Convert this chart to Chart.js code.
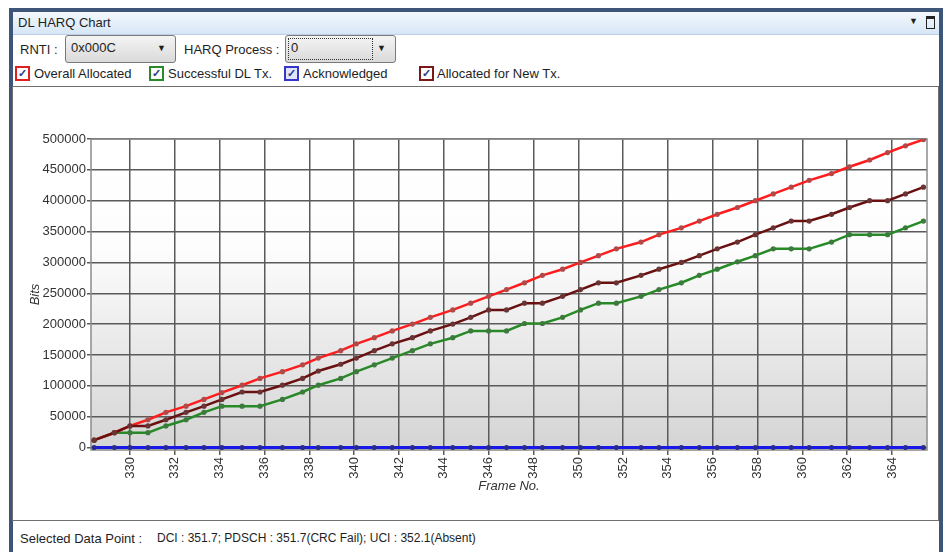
<!DOCTYPE html>
<html>
<head>
<meta charset="utf-8">
<title>DL HARQ Chart</title>
<script src="https://cdn.jsdelivr.net/npm/chart.js@4.4.0/dist/chart.umd.min.js"></script>
<style>
    body { margin: 0; background: #fff; font-family: "Liberation Sans", Arial, sans-serif; font-size: 13px; color: #1e1e1e; }
    #root { position: relative; width: 946px; height: 552px; overflow: hidden; }
    .abs { position: absolute; white-space: nowrap; }
    .frame { left: 9px; top: 8px; width: 926px; height: 560px; border: 4px solid #3d5579; border-bottom: none; }
    .titlebar { left: 13px; top: 12px; width: 926px; height: 22px; background: linear-gradient(#f4f8fd, #d6e6f6); border-bottom: 1px solid #b9cfe7; }
    .select { height: 26px; border: 1px solid #7a7a7a; border-radius: 3px; background: linear-gradient(#f4f4f4, #dadada); }
    .select .arrow { position: absolute; right: 9px; top: 7px; font-size: 9px; }
    .chk { width: 11px; height: 11px; border: 2px solid; background: #fff; font-size: 11px; line-height: 11px; text-align: center; color: #2b3a8c; font-weight: bold; }
    .panel { left: 12px; top: 86px; width: 925px; height: 433px; border: 1px solid #6f6f6f; }
</style>
</head>
<body>
<div id="root"></div>
<script>
const frames = [328.4, 329.3, 330.0, 330.8, 331.6, 332.5, 333.3, 334.1, 335.0, 335.8,
    336.8, 337.7, 338.4, 339.4, 340.1, 340.9, 341.7, 342.6, 343.4, 344.4,
    345.2, 346.0, 346.8, 347.6, 348.4, 349.3, 350.1, 350.9, 351.7, 352.8,
    353.6, 354.6, 355.4, 356.2, 357.1, 357.9, 358.7, 359.5, 360.3, 361.3,
    362.1, 363.0, 363.8, 364.6, 365.4];
const overallAllocated = [12000, 24000, 35000, 45000, 57000, 67000, 78000, 89000, 101000, 112000,
    123000, 134000, 145000, 157000, 168000, 178000, 189000, 200000, 211000, 223000,
    234000, 245000, 256000, 267000, 279000, 289000, 300000, 311000, 322000, 333000,
    345000, 356000, 367000, 378000, 389000, 400000, 411000, 422000, 433000, 444000,
    455000, 466000, 478000, 489000, 499000];
const successfulDlTx = [12000, 24000, 24000, 24000, 35000, 45000, 57000, 67000, 67000, 67000,
    78000, 90000, 101000, 112000, 123000, 134000, 145000, 157000, 168000, 178000,
    189000, 189000, 189000, 201000, 201000, 211000, 223000, 234000, 234000, 245000,
    256000, 267000, 279000, 289000, 301000, 311000, 322000, 322000, 322000, 333000,
    345000, 345000, 345000, 356000, 367000];
const acknowledged = [0, 0, 0, 0, 0, 0, 0, 0, 0, 0,
    0, 0, 0, 0, 0, 0, 0, 0, 0, 0,
    0, 0, 0, 0, 0, 0, 0, 0, 0, 0,
    0, 0, 0, 0, 0, 0, 0, 0, 0, 0,
    0, 0, 0, 0, 0];
const allocatedNewTx = [12000, 24000, 35000, 35000, 45000, 57000, 67000, 78000, 90000, 90000,
    101000, 112000, 124000, 135000, 145000, 157000, 168000, 178000, 189000, 200000,
    211000, 223000, 223000, 234000, 234000, 245000, 256000, 267000, 267000, 279000,
    289000, 300000, 311000, 322000, 333000, 345000, 356000, 367000, 367000, 378000,
    389000, 400000, 400000, 411000, 422000];
const xTicks = [330, 332, 334, 336, 338, 340, 342, 344, 346, 348, 350, 352, 354, 356, 358, 360, 362, 364];
const yTicks = [0, 50000, 100000, 150000, 200000, 250000, 300000, 350000, 400000, 450000, 500000];

class DlHarqChartController {
    divMounted = 'root'
    constructor() {
        this.harqChart = null
    }

    toPoints(values) {
        return frames.map((f, i) => ({ x: f, y: values[i] }))
    }

    setup() {
        const plotBackground = {
            id: 'plotBackground',
            beforeDraw(chart) {
                const { ctx, chartArea: a } = chart;
                const g = ctx.createLinearGradient(0, a.top, 0, a.bottom);
                g.addColorStop(0, '#ffffff');
                g.addColorStop(0.35, '#fdfdfd');
                g.addColorStop(1, '#d4d4d4');
                ctx.save();
                ctx.fillStyle = g;
                ctx.fillRect(a.left, a.top, a.right - a.left, a.bottom - a.top);
                ctx.restore();
            },
            beforeDatasetsDraw(chart) {
                const { ctx, chartArea: a } = chart;
                ctx.save();
                ctx.strokeStyle = '#8c8c8c';
                ctx.lineWidth = 1.5;
                ctx.strokeRect(a.left, a.top, a.right - a.left, a.bottom - a.top);
                ctx.restore();
            }
        };

        const line = (label, values, color, pointColor, order, width) => ({
            label: label,
            data: this.toPoints(values),
            borderColor: color,
            backgroundColor: pointColor,
            borderWidth: width,
            pointRadius: 2.6,
            pointBorderWidth: 0,
            pointBackgroundColor: pointColor,
            order: order,
        });

        const axisFont = { family: '"Liberation Sans", Arial, sans-serif', size: 13 };
        const titleFont = { family: '"Liberation Sans", Arial, sans-serif', size: 13, style: 'italic' };

        let ctx = document.getElementById('harq-chart');
        this.harqChart = new Chart(ctx, {
            type: 'line',
            plugins: [plotBackground],
            data: {
                datasets: [
                    line('Allocated for New Tx.', allocatedNewTx, '#6a1010', '#6a3434', 0, 2.5),
                    line('Overall Allocated', overallAllocated, '#ff1c1c', '#b04a4a', 1, 2.5),
                    line('Successful DL Tx.', successfulDlTx, '#278a27', '#3d7a3d', 2, 2.5),
                    line('Acknowledged', acknowledged, '#1818e8', '#2a2a8c', 3, 3),
                ]
            },
            options: {
                responsive: false,
                animation: false,
                devicePixelRatio: 1,
                layout: { padding: { left: 0, right: 10, top: 52, bottom: 21 } },
                plugins: {
                    legend: { display: false },
                    tooltip: { enabled: false },
                },
                scales: {
                    x: {
                        type: 'linear',
                        min: 328.26,
                        max: 365.56,
                        afterBuildTicks: (s) => { s.ticks = xTicks.map(v => ({ value: v })) },
                        afterFit: (s) => { s.height = 48 },
                        border: { display: false },
                        grid: { color: '#5a5a5a', lineWidth: 1.5, tickLength: 5 },
                        ticks: { minRotation: 90, maxRotation: 90, autoSkip: false, color: '#333', font: axisFont, padding: 2,
                            callback: (v) => String(v) },
                        title: { display: true, text: 'Frame No.', color: '#333', font: titleFont, padding: { top: 0, bottom: 4 } },
                    },
                    y: {
                        min: -4000,
                        max: 500000,
                        afterBuildTicks: (s) => { s.ticks = yTicks.map(v => ({ value: v })) },
                        afterFit: (s) => { s.width = 78 },
                        border: { display: false },
                        grid: { color: '#5a5a5a', lineWidth: 1.5, tickLength: 4 },
                        ticks: { color: '#333', font: axisFont, padding: 1,
                            callback: (v) => String(v) },
                        title: { display: true, text: 'Bits', color: '#333', font: titleFont, padding: { top: 15, bottom: 0 } },
                    }
                }
            }
        })
    }

    mount() {
        document.getElementById(this.divMounted).innerHTML = this.show();
        this.setup()
    }

    show() {
        return `
            <div class="abs frame"></div>
            <div class="abs titlebar"></div>
            <div class="abs" style="left:18px; top:15px;">DL HARQ Chart</div>
            <div class="abs" style="left:909px; top:16px; font-size:9px;">&#9660;</div>
            <div class="abs" style="left:926px; top:16px; width:7px; height:9px; border:1px solid #222; border-top-width:3px;"></div>

            <div class="abs" style="left:20px; top:42px;">RNTI :</div>
            <div class="abs select" style="left:65px; top:35px; width:109px;">
                <span class="abs" style="left:5px; top:4px;">0x000C</span><span class="arrow abs">&#9660;</span>
            </div>
            <div class="abs" style="left:184px; top:42px;">HARQ Process :</div>
            <div class="abs select" style="left:285px; top:35px; width:109px;">
                <span class="abs" style="left:2px; top:2px; width:83px; height:20px; border:1px dotted #333;"></span>
                <span class="abs" style="left:5px; top:4px;">0</span><span class="arrow abs">&#9660;</span>
            </div>

            <div class="abs chk" style="left:15px; top:66px; border-color:#e02020;">&#10003;</div>
            <div class="abs" style="left:34px; top:66px;">Overall Allocated</div>
            <div class="abs chk" style="left:149px; top:66px; border-color:#2a8a2a;">&#10003;</div>
            <div class="abs" style="left:168px; top:66px;">Successful DL Tx.</div>
            <div class="abs chk" style="left:284px; top:66px; border-color:#3535c8; background:#dfe4fa;">&#10003;</div>
            <div class="abs" style="left:303px; top:66px;">Acknowledged</div>
            <div class="abs chk" style="left:419px; top:66px; border-color:#7a1818;">&#10003;</div>
            <div class="abs" style="left:437px; top:66px;">Allocated for New Tx.</div>

            <div class="abs panel"></div>
            <canvas id="harq-chart" class="abs" style="left:13px; top:87px;" width="924" height="432"></canvas>

            <div class="abs" style="left:20px; top:531px; font-size:13px;">Selected Data Point :</div>
            <div class="abs" style="left:157px; top:531px; font-size:12px;">DCI : 351.7; PDSCH : 351.7(CRC Fail); UCI : 352.1(Absent)</div>
        `;
    }
}

var dlHarqChartController = new DlHarqChartController();
dlHarqChartController.mount();
</script>
</body>
</html>
